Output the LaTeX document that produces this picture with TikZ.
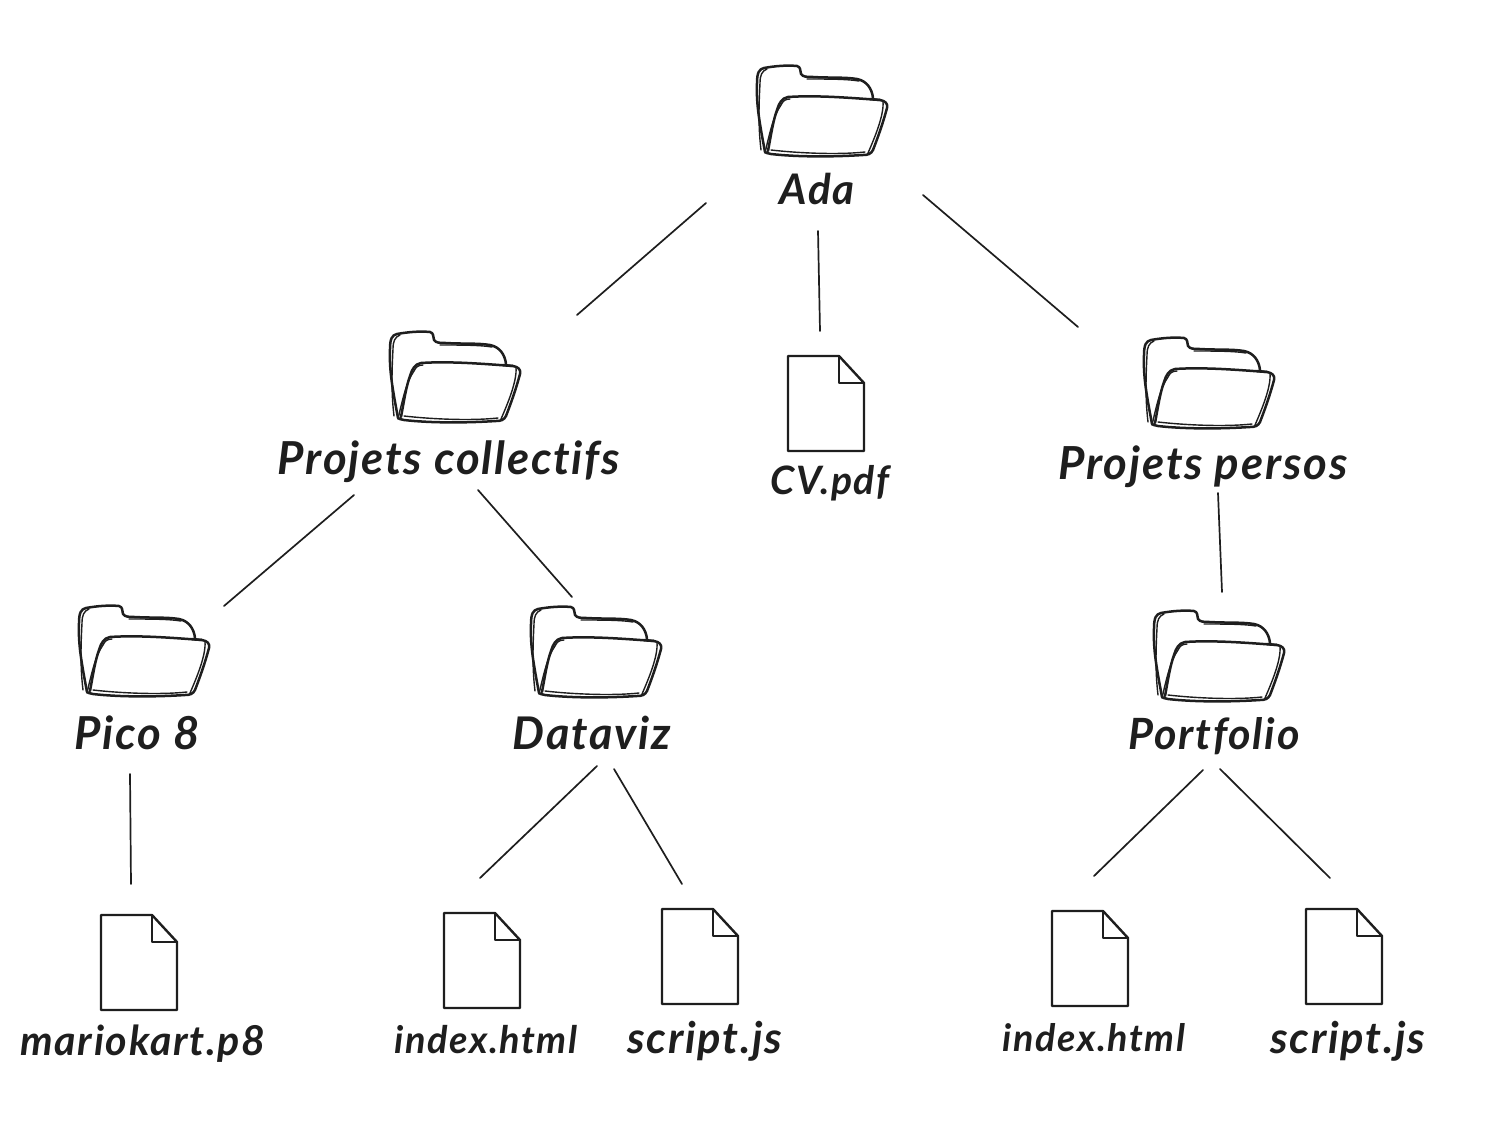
\documentclass[tikz,border=0pt]{standalone}
\usepackage{fontspec}
\usepackage{graphicx}
\setmainfont{Lato}[ItalicFont=Lato Italic,BoldItalicFont=Lato Bold Italic,Ligatures=NoCommon]
\definecolor{ink}{HTML}{1E1E1E}
\newcommand{\lbl}[2]{\resizebox{#1pt}{!}{\bfseries\itshape\addfontfeatures{LetterSpace=4}#2}}
\newcommand{\folderlines}{%
  \draw[foldline] (8,87) .. controls (3,60) and (-1,40) .. (0,18) .. controls (0,8) and (2,4) .. (7,3)
    .. controls (18,1) and (30,0) .. (40,1) .. controls (44,2) and (43,6) .. (44,9)
    .. controls (46,12) and (50,12) .. (56,12) .. controls (72,13) and (88,12) .. (100,14)
    .. controls (110,16) and (115,24) .. (116,33);
  \draw[foldline] (11,86) .. controls (14,70) and (16,56) .. (20,45) .. controls (22,38) and (25,33) .. (31,32)
    .. controls (60,30) and (95,33) .. (123,35) .. controls (128,36) and (131,38) .. (130,43)
    .. controls (126,58) and (121,72) .. (116,85) .. controls (114,89) and (111,90) .. (106,90)
    .. controls (75,92) and (40,92) .. (14,89) .. controls (10,88) and (9,88) .. (8,87);
  \draw[foldline] (113,34) -- (123,35);
}
\tikzset{
  foldline/.style={ink,line width=2.5pt,line cap=round,line join=round},
  thinfold/.style={ink,line width=1.4pt,line cap=round,line join=round},
  link/.style={ink,line width=1.7pt,line cap=round},
  fileline/.style={ink,line width=2.4pt,line join=round},
  label/.style={text=ink,inner sep=0pt,anchor=center},
  anchorbox/.style={inner sep=0pt,minimum size=0pt},
  folder/.pic={
    \folderlines
    \draw[thinfold] (4,85) .. controls (1,60) and (2,38) .. (3,18) .. controls (3,10) and (5,6) .. (10,4);
    \draw[thinfold] (8,88) .. controls (13,66) and (17,50) .. (24,40) .. controls (26,36) and (28,34) .. (33,34);
    \draw[thinfold] (126,37) .. controls (127,50) and (118,72) .. (111,88);
    \draw[thinfold] (14,85) .. controls (40,88) and (80,90) .. (108,87);
    \draw[thinfold] (50,14) .. controls (70,14) and (90,14) .. (102,16);
  },
  docfile/.pic={
    \draw[fileline] (0,0) -- (51,0) -- (76,27) -- (76,95) -- (0,95) -- cycle;
    \draw[fileline] (51,0) -- (51,27) -- (76,27);
  }
}
\begin{document}
\begin{tikzpicture}[x=1pt,y=-1pt]
\useasboundingbox (0,0) rectangle (1485,1132);
% folders
\node[anchorbox] (fAda) at (757,65) {};
\node[anchorbox] (fColl) at (390,331) {};
\node[anchorbox] (fPers) at (1144,337) {};
\node[anchorbox] (fPico) at (79,605) {};
\node[anchorbox] (fData) at (531,606) {};
\node[anchorbox] (fPort) at (1154,610) {};
\foreach \n in {fAda,fColl,fPers,fPico,fData,fPort} { \pic at (\n) {folder}; }
% files
\node[anchorbox] (dCV) at (788,356) {};
\node[anchorbox] (dMario) at (101,915) {};
\node[anchorbox] (dIdxA) at (444,913) {};
\node[anchorbox] (dScrA) at (662,909) {};
\node[anchorbox] (dIdxB) at (1052,911) {};
\node[anchorbox] (dScrB) at (1306,909) {};
\foreach \n in {dCV,dMario,dIdxA,dScrA,dIdxB,dScrB} { \pic at (\n) {docfile}; }
% labels
\node[label] (tAda) at (817,189) {\lbl{75}{Ada}};
\node[label] (tColl) at (449,462) {\lbl{342}{Projets collectifs}};
\node[label] (tCV) at (830,483) {\lbl{119}{CV.pdf}};
\node[label] (tPers) at (1203,467) {\lbl{289}{Projets persos}};
\node[label] (tPico) at (137,733) {\lbl{125}{Pico 8}};
\node[label] (tData) at (592,733) {\lbl{158}{Dataviz}};
\node[label] (tPort) at (1214,736) {\lbl{171}{Portfolio}};
\node[label] (tMario) at (143,1044) {\lbl{245}{mariokart.p8}};
\node[label] (tIdxA) at (486,1040) {\lbl{183}{index.html}};
\node[label] (tScrA) at (705,1041) {\lbl{155}{script.js}};
\node[label] (tIdxB) at (1094,1038) {\lbl{182}{index.html}};
\node[label] (tScrB) at (1348,1041) {\lbl{155}{script.js}};
% connector ends
\coordinate (a1) at (706,203); \coordinate (a2) at (577,315);
\coordinate (b1) at (818,231); \coordinate (b2) at (820,331);
\coordinate (c1) at (923,195); \coordinate (c2) at (1078,327);
\coordinate (d1) at (354,495); \coordinate (d2) at (224,606);
\coordinate (e1) at (478,490); \coordinate (e2) at (572,597);
\coordinate (f1) at (1218,493); \coordinate (f2) at (1222,592);
\coordinate (g1) at (130,774); \coordinate (g2) at (131,884);
\coordinate (h1) at (597,766); \coordinate (h2) at (480,878);
\coordinate (i1) at (614,769); \coordinate (i2) at (682,884);
\coordinate (j1) at (1203,770); \coordinate (j2) at (1094,876);
\coordinate (k1) at (1220,769); \coordinate (k2) at (1330,878);
\foreach \n in {a,b,c,d,e,f,g,h,i,j,k} { \draw[link] (\n1) -- (\n2); }
\end{tikzpicture}
\end{document}
